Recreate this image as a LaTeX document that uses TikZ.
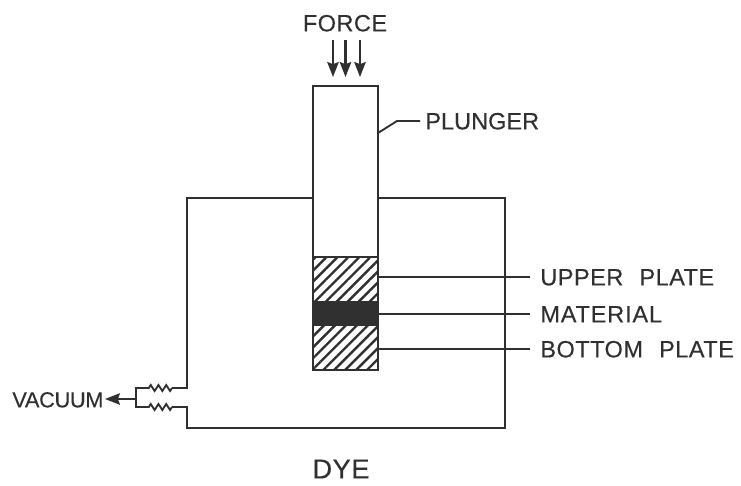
\documentclass[tikz,border=0pt]{standalone}
\usepackage{fontspec}
\setmainfont[LetterSpace=2,WordSpace=2.3,FakeBold=0.25]{Liberation Sans}
\usetikzlibrary{positioning,patterns.meta,decorations.pathmorphing,arrows.meta}
\definecolor{inkgray}{HTML}{303030}

\begin{document}
\begin{tikzpicture}[
            x=0.02cm, y=-0.02cm,
            node distance=0pt,
            line/.style={draw=inkgray, line width=1.05pt},
            label/.style={text=inkgray, font=\fontsize{13.4}{15}\selectfont, inner sep=0pt, text height=9.5pt, text depth=0pt},
            part/.style={rectangle, draw=inkgray, line width=1.2pt, minimum width=1.3cm, outer sep=0pt, inner sep=0pt},
            hatched/.style={part, pattern={Lines[angle=45, distance=0.155cm, line width=1.35pt]}, pattern color=inkgray},
            arrow/.style={draw=inkgray, fill=inkgray, -{Stealth[length=8.5pt, width=6.5pt, inset=1.2pt]}, line width=1.2pt},
            resistor/.style={line, decorate, decoration={zigzag, amplitude=1.7pt, segment length=4.4pt}}
            ]
            \useasboundingbox (0,0) rectangle (741,485);

            % Plunger and plates
            \node[part, minimum height=3.42cm] (plunger) at (345.5,171.5) {};
            \node[hatched, minimum height=0.9cm, below=of plunger] (upperplate) {};
            \node[part, fill=inkgray, minimum height=0.46cm, below=of upperplate] (material) {};
            \node[hatched, minimum height=0.9cm, below=of material] (bottomplate) {};

            % Labels
            \node[label] (force) at (345,23) {FORCE};
            \node[label, anchor=west] (plungerlabel) at (425,121) {\addfontfeature{LetterSpace=0}PLUNGER};
            \node[label, anchor=west] (upperlabel) at (540,277) {UPPER PLATE};
            \node[label, anchor=west] (materiallabel) at (540,314) {\addfontfeature{LetterSpace=3.5}MATERIAL};
            \node[label, anchor=west] (bottomlabel) at (540,349) {BOTTOM PLATE};
            \node[label, font=\fontsize{15.5}{17}\selectfont] (dye) at (341,470) {DYE};
            \node[label, font=\fontsize{12.4}{15}\selectfont, anchor=west] (vacuum) at (12,399) {\addfontfeature{LetterSpace=-1.5}VACUUM};

            % Force arrows
            \coordinate (f1) at (333,40);
            \coordinate (f2) at (345.5,40);
            \coordinate (f3) at (360,40);
            \draw[arrow] (f1) -- (333,77);
            \draw[arrow] (f2) -- (345.5,77);
            \draw[arrow] (f3) -- (360,77);

            % Die outline
            \coordinate (dietopleft) at (187,198);
            \coordinate (dietopright) at (505,198);
            \coordinate (diebottomright) at (505,428);
            \coordinate (diebottomleft) at (187,428);
            \coordinate (portupper) at (187,388);
            \coordinate (portlower) at (187,407);
            \coordinate (coilupperin) at (172,388);
            \coordinate (coilupperout) at (148,388);
            \coordinate (coillowerin) at (172,407);
            \coordinate (coillowerout) at (148,407);
            \coordinate (manifoldupper) at (136,388);
            \coordinate (manifoldlower) at (136,407);
            \coordinate (manifold) at (136,399);
            \coordinate (vacuumtip) at (105,399);
            \draw[line] (plunger.west |- dietopleft) -- (dietopleft) -- (portupper) -- (coilupperin);
            \draw[line] (plunger.east |- dietopright) -- (dietopright) -- (diebottomright) -- (diebottomleft) -- (portlower) -- (coillowerin);
            \draw[resistor] (coilupperin) -- (coilupperout);
            \draw[resistor] (coillowerin) -- (coillowerout);
            \draw[line] (coilupperout) -- (manifoldupper) -- (manifoldlower) -- (coillowerout);
            \draw[arrow] (manifold) -- (vacuumtip);

            % Leaders
            \coordinate (plungerbend) at (397,121);
            \coordinate (plungerside) at (378,133);
            \coordinate (plungerend) at (420,121);
            \draw[line] (plungerside) -- (plungerbend) -- (plungerend);
            \draw[line] (upperlabel.west) ++(-10,0) -- (upperlabel.west -| upperplate.east);
            \draw[line] (materiallabel.west) ++(-10,0) -- (materiallabel.west -| material.east);
            \draw[line] (bottomlabel.west) ++(-10,0) -- (bottomlabel.west -| bottomplate.east);

        \end{tikzpicture}
\end{document}
